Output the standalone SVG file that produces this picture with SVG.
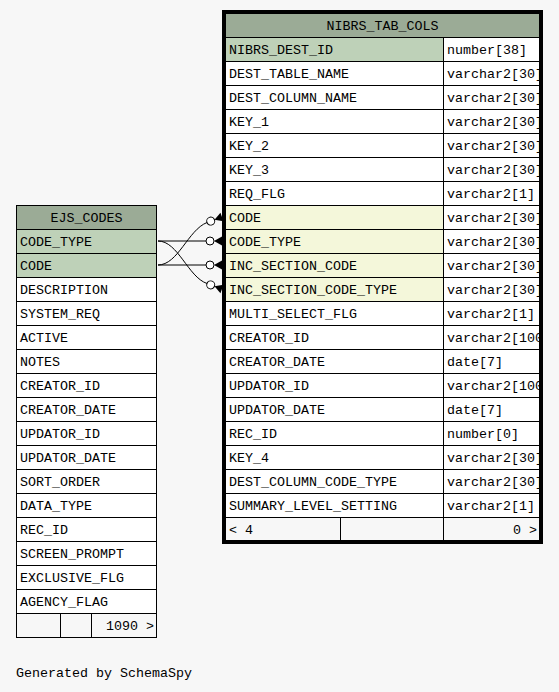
<svg xmlns="http://www.w3.org/2000/svg" width="559" height="692" viewBox="0 0 559 692">
<style>
text{font-family:"Liberation Mono","DejaVu Sans Mono",monospace;font-size:13.33px;fill:#000}
.hd{fill:#9bab96}.pk{fill:#bed1b8}.fk{fill:#f4f7da}.wh{fill:#fff}.ft{fill:#f7f7f7}
.ln{stroke:#000;stroke-width:1;fill:none}
.c{text-anchor:middle}.r{text-anchor:end}
.edge{stroke:#000;stroke-width:1;fill:none}
</style>
<defs>
<clipPath id="clipR"><rect x="226" y="14" width="313" height="527"/></clipPath>
<g id="crowodot">
<circle cx="-12" cy="0" r="4" fill="#fff" stroke="#000" stroke-width="1"/>
<polygon points="-8,0 0,-4.5 0,4.5" fill="#000"/>
</g>
</defs>
<rect width="559" height="692" fill="#f7f7f7"/>

<g id="EJS_CODES">
<rect class="hd" x="16.5" y="205.5" width="140" height="24"/>
<rect class="pk" x="16.5" y="229.5" width="140" height="48"/>
<rect class="wh" x="16.5" y="277.5" width="140" height="336"/>
<rect class="ft" x="16.5" y="613.5" width="140" height="24"/>
<path class="ln" d="M16.5,229.5H156.5M16.5,253.5H156.5M16.5,277.5H156.5M16.5,301.5H156.5M16.5,325.5H156.5M16.5,349.5H156.5M16.5,373.5H156.5M16.5,397.5H156.5M16.5,421.5H156.5M16.5,445.5H156.5M16.5,469.5H156.5M16.5,493.5H156.5M16.5,517.5H156.5M16.5,541.5H156.5M16.5,565.5H156.5M16.5,589.5H156.5M16.5,613.5H156.5M60.5,613.5V637.5M91.5,613.5V637.5"/>
<rect class="ln" x="16.5" y="205.5" width="140" height="432"/>
<text class="c" x="86.5" y="222">EJS_CODES</text>
<text x="20" y="246">CODE_TYPE</text>
<text x="20" y="270">CODE</text>
<text x="20" y="294">DESCRIPTION</text>
<text x="20" y="318">SYSTEM_REQ</text>
<text x="20" y="342">ACTIVE</text>
<text x="20" y="366">NOTES</text>
<text x="20" y="390">CREATOR_ID</text>
<text x="20" y="414">CREATOR_DATE</text>
<text x="20" y="438">UPDATOR_ID</text>
<text x="20" y="462">UPDATOR_DATE</text>
<text x="20" y="486">SORT_ORDER</text>
<text x="20" y="510">DATA_TYPE</text>
<text x="20" y="534">REC_ID</text>
<text x="20" y="558">SCREEN_PROMPT</text>
<text x="20" y="582">EXCLUSIVE_FLG</text>
<text x="20" y="606">AGENCY_FLAG</text>
<text class="r" x="154" y="630">1090 &gt;</text>
</g>

<g id="NIBRS_TAB_COLS">
<rect class="hd" x="226" y="14" width="313" height="23.5"/>
<rect class="wh" x="226" y="37.5" width="313" height="480"/>
<rect class="pk" x="226" y="37.5" width="217" height="24"/>
<rect class="fk" x="226" y="205.5" width="217" height="96"/>
<rect class="ft" x="226" y="517.5" width="313" height="23"/>
<path class="ln" d="M226,37.5H539M226,61.5H539M226,85.5H539M226,109.5H539M226,133.5H539M226,157.5H539M226,181.5H539M226,205.5H539M226,229.5H539M226,253.5H539M226,277.5H539M226,301.5H539M226,325.5H539M226,349.5H539M226,373.5H539M226,397.5H539M226,421.5H539M226,445.5H539M226,469.5H539M226,493.5H539M226,517.5H539M443.5,37.5V541M340.5,517.5V541"/>
<g clip-path="url(#clipR)">
<text class="c" x="382.5" y="30">NIBRS_TAB_COLS</text>
<text x="229" y="54">NIBRS_DEST_ID</text><text x="447" y="54">number[38]</text>
<text x="229" y="78">DEST_TABLE_NAME</text><text x="447" y="78">varchar2[30]</text>
<text x="229" y="102">DEST_COLUMN_NAME</text><text x="447" y="102">varchar2[30]</text>
<text x="229" y="126">KEY_1</text><text x="447" y="126">varchar2[30]</text>
<text x="229" y="150">KEY_2</text><text x="447" y="150">varchar2[30]</text>
<text x="229" y="174">KEY_3</text><text x="447" y="174">varchar2[30]</text>
<text x="229" y="198">REQ_FLG</text><text x="447" y="198">varchar2[1]</text>
<text x="229" y="222">CODE</text><text x="447" y="222">varchar2[30]</text>
<text x="229" y="246">CODE_TYPE</text><text x="447" y="246">varchar2[30]</text>
<text x="229" y="270">INC_SECTION_CODE</text><text x="447" y="270">varchar2[30]</text>
<text x="229" y="294">INC_SECTION_CODE_TYPE</text><text x="447" y="294">varchar2[30]</text>
<text x="229" y="318">MULTI_SELECT_FLG</text><text x="447" y="318">varchar2[1]</text>
<text x="229" y="342">CREATOR_ID</text><text x="447" y="342">varchar2[100]</text>
<text x="229" y="366">CREATOR_DATE</text><text x="447" y="366">date[7]</text>
<text x="229" y="390">UPDATOR_ID</text><text x="447" y="390">varchar2[100]</text>
<text x="229" y="414">UPDATOR_DATE</text><text x="447" y="414">date[7]</text>
<text x="229" y="438">REC_ID</text><text x="447" y="438">number[0]</text>
<text x="229" y="462">KEY_4</text><text x="447" y="462">varchar2[30]</text>
<text x="229" y="486">DEST_COLUMN_CODE_TYPE</text><text x="447" y="486">varchar2[30]</text>
<text x="229" y="510">SUMMARY_LEVEL_SETTING</text><text x="447" y="510">varchar2[1]</text>
<text x="229" y="534">&lt; 4</text>
<text class="r" x="537" y="534">0 &gt;</text>
</g>
<rect x="224" y="12" width="317" height="530" fill="none" stroke="#000" stroke-width="4"/>
</g>

<g id="connectors">
<path class="edge" d="M158,241 L206,241"/>
<path class="edge" d="M158,265 L206,265"/>
<path class="edge" d="M158,265 C178,265 188,230 207,222.5"/>
<path class="edge" d="M158,241 C178,241 188,277 207,283.5"/>
<use href="#crowodot" transform="translate(222,217) rotate(-20)"/>
<use href="#crowodot" transform="translate(222,241)"/>
<use href="#crowodot" transform="translate(222,265)"/>
<use href="#crowodot" transform="translate(222,289) rotate(20)"/>
</g>

<text x="16" y="677">Generated by SchemaSpy</text>
</svg>
